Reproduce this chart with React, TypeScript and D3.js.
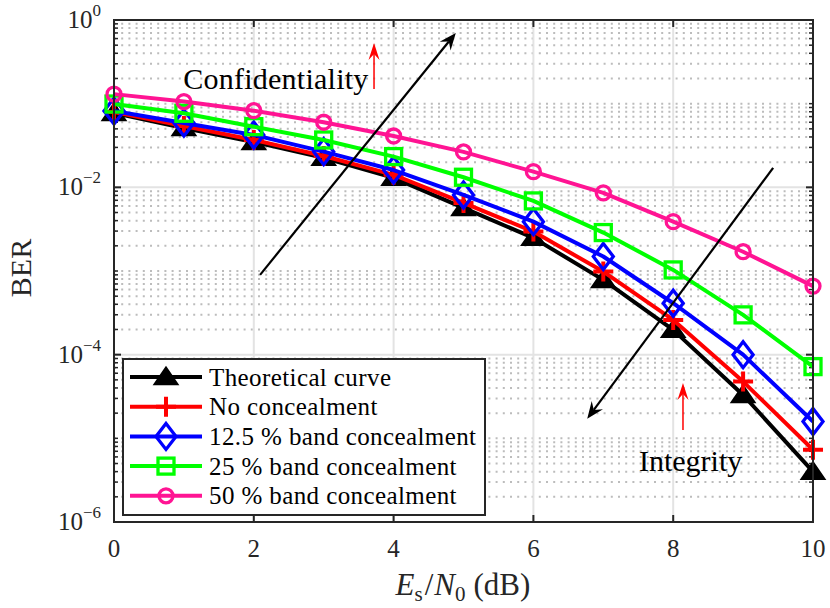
import * as React from "react";
import * as d3 from "d3";

// Es/N0 in dB
const snr = [0, 1, 2, 3, 4, 5, 6, 7, 8, 9, 10];

// BER values
const theoretical = [0.0774, 0.0513, 0.0348, 0.0225, 0.013, 0.00567, 0.00249, 0.000783, 0.000198, 3.3e-5, 4.0e-6];
const noConcealment = [0.0796, 0.0542, 0.0368, 0.0237, 0.0141, 0.00651, 0.00296, 0.000984, 0.00026, 4.77e-5, 7.3e-6];
const band125 = [0.0818, 0.0588, 0.0423, 0.0267, 0.0161, 0.0081, 0.00389, 0.00149, 0.000412, 1.0e-4, 1.59e-5];
const band25 = [0.099, 0.0768, 0.0531, 0.0368, 0.0233, 0.0132, 0.00688, 0.00288, 0.00103, 0.000299, 7.2e-5];
const band50 = [0.13, 0.106, 0.0824, 0.06, 0.0411, 0.0265, 0.0154, 0.00858, 0.00389, 0.0017, 0.00066];

const xTicks = [0, 2, 4, 6, 8, 10];
const yTickExponents = [0, -2, -4, -6];

const series = [
  { name: "Theoretical curve", values: theoretical, color: "#000000", marker: "triangle" },
  { name: "No concealment", values: noConcealment, color: "#ff0000", marker: "plus" },
  { name: "12.5 % band concealment", values: band125, color: "#0000ff", marker: "diamond" },
  { name: "25 % band concealment", values: band25, color: "#00ff00", marker: "square" },
  { name: "50 % band concealment", values: band50, color: "#ff1493", marker: "circle" },
];

// annotation arrows, in data coordinates [dB, BER]
const confidentialityArrow = { from: [2.09, 9e-4], to: [4.89, 0.7] };
const integrityArrow = { from: [9.43, 0.0171], to: [6.77, 1.71e-5] };
const confidentialityRed = { from: [3.72, 0.15], to: [3.72, 0.53] };
const integrityRed = { from: [8.14, 1.26e-5], to: [8.14, 4.6e-5] };
const confidentialityLabel = { at: [0.99, 0.2], text: "Confidentiality" };
const integrityLabel = { at: [7.51, 5.4e-6], text: "Integrity" };

const W = 830;
const H = 608;
const margin = { top: 20, right: 17, bottom: 86, left: 114 };
const axisColor = "#262626";
const serif = "'Liberation Serif', 'Times New Roman', serif";

function Marker({ kind, cx, cy, color }: any) {
  const sw = 3.3;
  if (kind === "triangle") {
    return <path d={`M${cx},${cy - 9}L${cx + 11},${cy + 7}L${cx - 11},${cy + 7}Z`} fill={color} stroke={color} strokeWidth={2.5} strokeLinejoin="miter" />;
  }
  if (kind === "plus") {
    return <path d={`M${cx - 10},${cy}H${cx + 10}M${cx},${cy - 10}V${cy + 10}`} stroke={color} strokeWidth={4} fill="none" />;
  }
  if (kind === "diamond") {
    return <path d={`M${cx},${cy - 13}L${cx + 10},${cy}L${cx},${cy + 13}L${cx - 10},${cy}Z`} stroke={color} strokeWidth={sw} fill="none" />;
  }
  if (kind === "square") {
    return <rect x={cx - 8} y={cy - 8} width={16} height={16} stroke={color} strokeWidth={sw} fill="none" />;
  }
  return <circle cx={cx} cy={cy} r={7} stroke={color} strokeWidth={sw} fill="none" />;
}

function Arrow({ x1, y1, x2, y2, color, width, headLen, headWidth }: any) {
  const dx = x2 - x1;
  const dy = y2 - y1;
  const len = Math.sqrt(dx * dx + dy * dy);
  const ux = dx / len;
  const uy = dy / len;
  const px = -uy;
  const py = ux;
  const bx = x2 - ux * headLen;
  const by = y2 - uy * headLen;
  const nx = x2 - ux * headLen * 0.65;
  const ny = y2 - uy * headLen * 0.65;
  const head = `M${x2},${y2}L${bx + px * headWidth / 2},${by + py * headWidth / 2}L${nx},${ny}L${bx - px * headWidth / 2},${by - py * headWidth / 2}Z`;
  return (
    <g>
      <line x1={x1} y1={y1} x2={nx} y2={ny} stroke={color} strokeWidth={width} />
      <path d={head} fill={color} stroke="none" />
    </g>
  );
}

export default function App() {
  const x = d3.scaleLinear().domain([0, 10]).range([margin.left, W - margin.right]);
  const y = d3.scaleLog().domain([1e-6, 1]).range([H - margin.bottom, margin.top]);
  const x0 = x.range()[0];
  const x1 = x.range()[1];
  const yTop = y.range()[1];
  const yBot = y.range()[0];

  const minorY: number[] = [];
  for (let d = -6; d <= -1; d++) {
    for (let k = 1; k <= 9; k++) {
      if (k === 1 && d % 2 === 0) continue;
      minorY.push(k * Math.pow(10, d));
    }
  }

  const line = d3
    .line<number>()
    .x((_, i) => x(snr[i]))
    .y((v) => y(v));

  const legendX = 123;
  const legendY = 359;
  const legendW = 362;
  const legendH = 156;
  const rowH = 29.7;

  return (
    <svg width={W} height={H} style={{ position: "absolute", left: 0, top: 0, background: "#fff" }} fontFamily={serif}>
      <rect x={0} y={0} width={W} height={H} fill="#fff" />
      {/* minor grid */}
      {minorY.map((v, i) => (
        <line key={"mg" + i} x1={x0} x2={x1} y1={y(v)} y2={y(v)} stroke="#bcbcbc" strokeWidth={2} strokeDasharray="2 5.2" />
      ))}
      {/* major grid */}
      {xTicks.slice(1, -1).map((t) => (
        <line key={"gx" + t} x1={x(t)} x2={x(t)} y1={yTop} y2={yBot} stroke="#e3e3e3" strokeWidth={2} />
      ))}
      {yTickExponents.slice(1, -1).map((e) => (
        <line key={"gy" + e} x1={x0} x2={x1} y1={y(Math.pow(10, e))} y2={y(Math.pow(10, e))} stroke="#e3e3e3" strokeWidth={2} />
      ))}

      {/* ticks */}
      {xTicks.map((t) => (
        <g key={"tx" + t}>
          <line x1={x(t)} x2={x(t)} y1={yBot} y2={yBot - 7} stroke={axisColor} strokeWidth={2} />
          <line x1={x(t)} x2={x(t)} y1={yTop} y2={yTop + 7} stroke={axisColor} strokeWidth={2} />
          <text x={x(t)} y={yBot + 35} fontSize={25} textAnchor="middle" fill={axisColor}>
            {t}
          </text>
        </g>
      ))}
      {minorY.map((v, i) => (
        <g key={"my" + i}>
          <line x1={x0} x2={x0 + 4} y1={y(v)} y2={y(v)} stroke={axisColor} strokeWidth={1.5} />
          <line x1={x1} x2={x1 - 4} y1={y(v)} y2={y(v)} stroke={axisColor} strokeWidth={1.5} />
        </g>
      ))}
      {yTickExponents.map((e) => {
        const yy = y(Math.pow(10, e));
        return (
          <g key={"ty" + e}>
            <line x1={x0} x2={x0 + 7} y1={yy} y2={yy} stroke={axisColor} strokeWidth={2} />
            <line x1={x1} x2={x1 - 7} y1={yy} y2={yy} stroke={axisColor} strokeWidth={2} />
            <text x={101} y={yy + 8} fontSize={25} textAnchor="end" fill={axisColor}>
              10
              <tspan fontSize={17} dy={-12}>
                {e === 0 ? "0" : "\u2212" + Math.abs(e)}
              </tspan>
            </text>
          </g>
        );
      })}

      {/* series */}
      {series.map((s) => (
        <g key={s.name}>
          <path d={line(s.values) || ""} fill="none" stroke={s.color} strokeWidth={4} strokeLinejoin="round" />
          {s.values.map((v, i) => (
            <Marker key={i} kind={s.marker} cx={x(snr[i])} cy={y(v)} color={s.color} />
          ))}
        </g>
      ))}

      {/* annotations */}
      <Arrow x1={x(confidentialityArrow.from[0])} y1={y(confidentialityArrow.from[1])} x2={x(confidentialityArrow.to[0])} y2={y(confidentialityArrow.to[1])} color="#000" width={2.2} headLen={17} headWidth={14} />
      <Arrow x1={x(integrityArrow.from[0])} y1={y(integrityArrow.from[1])} x2={x(integrityArrow.to[0])} y2={y(integrityArrow.to[1])} color="#000" width={2.2} headLen={17} headWidth={14} />
      <Arrow x1={x(confidentialityRed.from[0])} y1={y(confidentialityRed.from[1])} x2={x(confidentialityRed.to[0])} y2={y(confidentialityRed.to[1])} color="#ff0000" width={1.5} headLen={17} headWidth={11} />
      <Arrow x1={x(integrityRed.from[0])} y1={y(integrityRed.from[1])} x2={x(integrityRed.to[0])} y2={y(integrityRed.to[1])} color="#ff0000" width={1.5} headLen={17} headWidth={11} />
      <text x={x(confidentialityLabel.at[0])} y={y(confidentialityLabel.at[1])} fontSize={30} letterSpacing={0.25} dominantBaseline="central">
        {confidentialityLabel.text}
      </text>
      <text x={x(integrityLabel.at[0])} y={y(integrityLabel.at[1])} fontSize={30} dominantBaseline="central">
        {integrityLabel.text}
      </text>

      {/* legend */}
      <rect x={legendX} y={legendY} width={legendW} height={legendH} fill="#fff" stroke={axisColor} strokeWidth={2} />
      {series.map((s, i) => {
        const cy = legendY + 18 + i * rowH;
        return (
          <g key={"lg" + i}>
            <line x1={130} x2={202} y1={cy} y2={cy} stroke={s.color} strokeWidth={4} />
            <Marker kind={s.marker} cx={166} cy={cy} color={s.color} />
            <text x={209} y={cy} fontSize={25} letterSpacing={0.4} dominantBaseline="central" fill="#000">
              {s.name}
            </text>
          </g>
        );
      })}

      {/* box */}
      <rect x={x0} y={yTop} width={x1 - x0} height={yBot - yTop} fill="none" stroke={axisColor} strokeWidth={2} />

      {/* axis labels */}
      <text x={463} y={595} fontSize={31} textAnchor="middle" fill={axisColor}>
        <tspan fontStyle="italic">E</tspan>
        <tspan fontSize={21} dy={6}>s</tspan>
        <tspan dy={-6} dx={2}>/</tspan>
        <tspan fontStyle="italic" dx={1}>N</tspan>
        <tspan fontSize={21} dy={6}>0</tspan>
        <tspan dy={-6} dx={8}>(dB)</tspan>
      </text>
      <text transform="translate(31,268) rotate(-90)" fontSize={30} textAnchor="middle" fill={axisColor}>
        BER
      </text>
    </svg>
  );
}
